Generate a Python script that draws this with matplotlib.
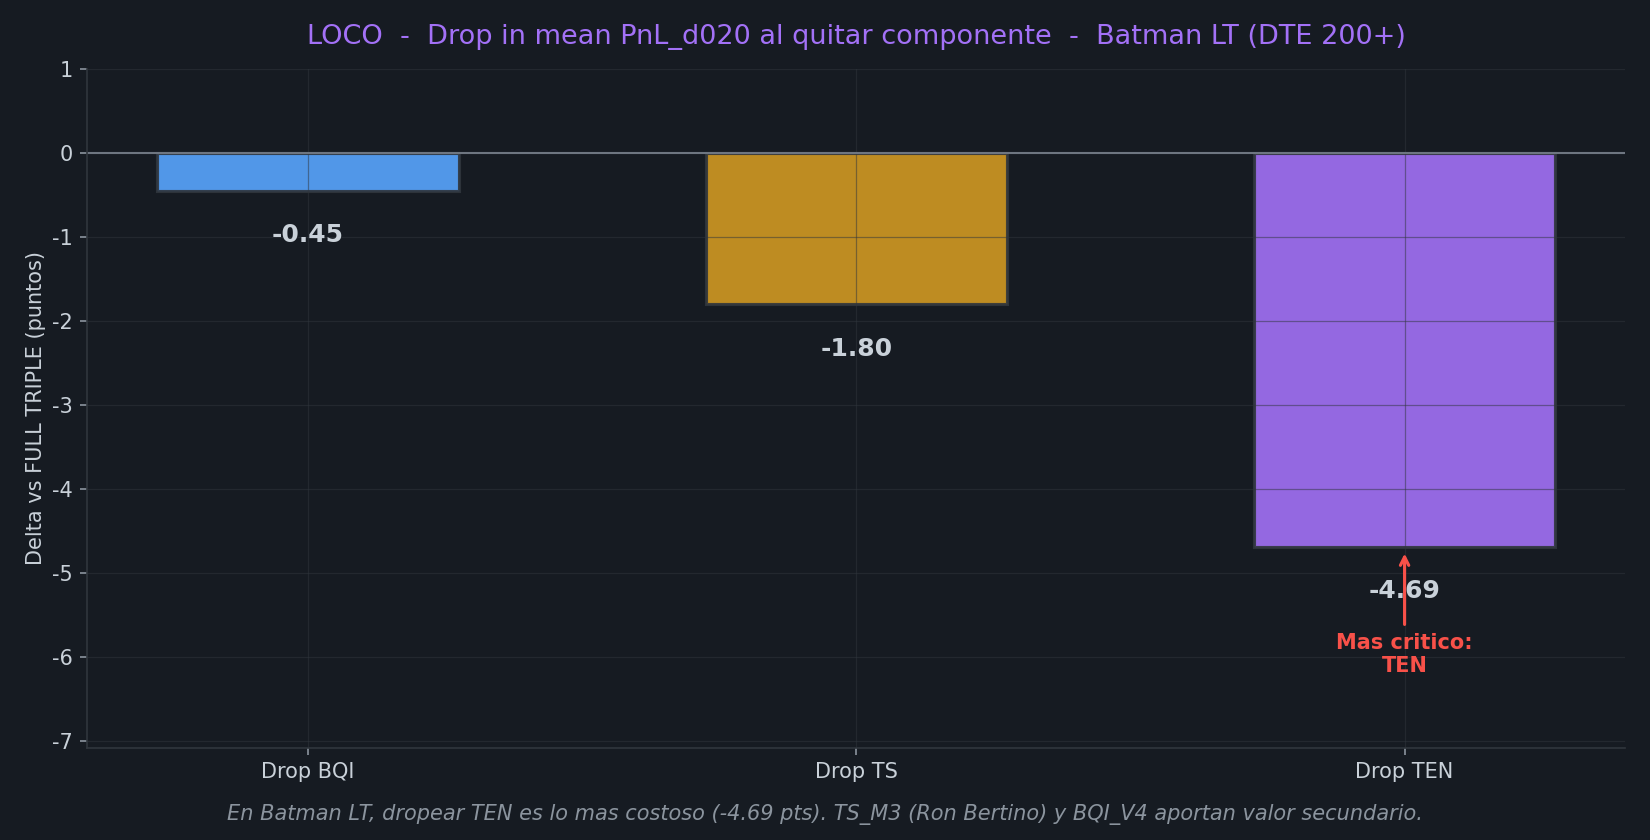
import numpy as np
import matplotlib.pyplot as plt

labels = ['Drop BQI', 'Drop TS', 'Drop TEN']
drops = [-0.45, -1.80, -4.69]
colores = ['#58a6ff', '#d29922', '#a371f7']

bg = '#161b22'
txt = '#c9d1d9'

plt.rcParams['axes.unicode_minus'] = False

fig, ax = plt.subplots(figsize=(11, 5.6), dpi=150)
fig.patch.set_facecolor(bg)
ax.set_facecolor(bg)

x = np.arange(len(labels))
ax.bar(x, drops, 0.55, color=colores, alpha=0.9, edgecolor='#30363d', linewidth=1.5)
ax.axhline(0, color='#6e7681', linewidth=1)

# etiquetas de valor debajo de cada barra
for xi, v in zip(x, drops):
    ax.text(xi, v - 0.53, '%.2f' % v, ha='center', va='center',
            fontsize=12, fontweight='bold', color=txt)

# el componente mas critico
i = int(np.argmin(drops))
ax.annotate('Mas critico:\n' + labels[i].replace('Drop ', ''),
            xy=(x[i], drops[i] - 0.03), xytext=(x[i], drops[i] - 1.28),
            ha='center', va='center', fontsize=10, fontweight='bold', color='#f85149',
            arrowprops=dict(arrowstyle='->', color='#f85149', lw=1.5))

ax.set_xticks(x)
ax.set_xticklabels(labels)
ax.set_ylim(-7.08, 1)
ax.set_ylabel('Delta vs FULL TRIPLE (puntos)', color=txt, fontsize=10, labelpad=3)
ax.set_title('LOCO  -  Drop in mean PnL_d020 al quitar componente  -  Batman LT (DTE 200+)',
             color='#a371f7', fontsize=13, pad=12)

ax.tick_params(colors=txt, labelsize=10)
ax.tick_params(color='#8b949e')
ax.grid(True, color='#30363d', alpha=0.5, linewidth=0.6)
for s in ['top', 'right']:
    ax.spines[s].set_visible(False)
for s in ['left', 'bottom']:
    ax.spines[s].set_color('#30363d')

fig.text(0.5, 0.03, 'En Batman LT, dropear TEN es lo mas costoso (-4.69 pts). TS_M3 (Ron Bertino) y BQI_V4 aportan valor secundario.',
         ha='center', va='center', fontsize=10, style='italic', color='#8b949e')

plt.subplots_adjust(left=0.053, right=0.985, top=0.918, bottom=0.11)
plt.savefig('out.png', facecolor=bg)
